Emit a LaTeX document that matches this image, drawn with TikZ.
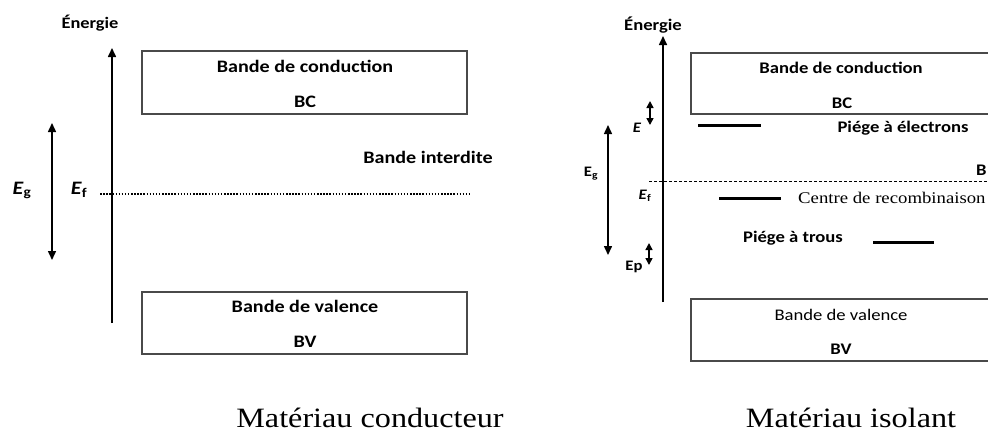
\documentclass[tikz,border=0pt]{standalone}
\usepackage{fontspec}
\setmainfont[FakeStretch=1.15]{Liberation Serif}
\newfontfamily\calib[FakeStretch=1.15]{Carlito}
\usetikzlibrary{arrows.meta}
\definecolor{bandEdge}{HTML}{4A4A4A}

\begin{document}
\begin{tikzpicture}[x=1pt, y=-1pt,
    band/.style={draw=bandEdge, line width=1.3pt, inner sep=0pt},
    lbl/.style={anchor=base, inner sep=0pt, font=\calib\bfseries\fontsize{17.5}{20}\selectfont},
    lblR/.style={anchor=base, inner sep=0pt, font=\calib\bfseries\fontsize{16.2}{19}\selectfont},
    sym/.style={anchor=base, inner sep=0pt, font=\calib\bfseries\fontsize{19}{22}\selectfont},
    symR/.style={anchor=base, inner sep=0pt, font=\calib\bfseries\fontsize{14.5}{17}\selectfont},
    legend/.style={anchor=base, inner sep=0pt, font=\fontsize{28}{32}\selectfont},
    axis/.style={line width=1.6pt, -{Triangle[width=8pt,length=9pt]}},
    gap/.style={line width=1.5pt, {Triangle[width=8pt,length=9pt]}-{Triangle[width=8pt,length=9pt]}},
    gapS/.style={line width=1.5pt, {Triangle[width=7pt,length=7pt]}-{Triangle[width=7pt,length=7pt]}},
    level/.style={line width=3pt}]
  \useasboundingbox (0,0) rectangle (988,432);
  \clip (0,0) rectangle (988,432);

  % Materiau conducteur
  \node[band, minimum width=325pt, minimum height=63pt] (bcL) at (304.5,82.5) {};
  \node[band, minimum width=325pt, minimum height=62pt] (bvL) at (304.5,323) {};
  \node[lbl] (bcLa) at (305,72.6) {Bande de conduction};
  \node[lbl] (bcLb) at (305,107.6) {BC};
  \node[lbl] (bvLa) at (305,312.6) {Bande de valence};
  \node[lbl] (bvLb) at (305,347.6) {BV};
  \node[lbl] (biL) at (428,163.6) {Bande interdite};
  \node[lbl, font=\calib\bfseries\fontsize{16}{19}\selectfont] (enL) at (90,28) {Énergie};
  % axe et gap
  \coordinate (axL0) at (112,323);
  \coordinate (axL1) at (112,48);
  \draw[axis] (axL0) -- (axL1);
  \coordinate (egL0) at (52,123);
  \coordinate (egL1) at (52,260);
  \draw[gap] (egL0) -- (egL1);
  \node[sym] (egLt) at (22,194) {\textit{E}\textsubscript{g}};
  \node[sym] (efLt) at (79,194) {\textit{E}\textsubscript{f}};
  \coordinate (fL0) at (100,194);
  \coordinate (fL1) at (470,194);
  \draw[line width=1.2pt, dash pattern=on 1.5pt off 1.6pt] (fL0) -- (fL1);
  \node[legend] (capL) at (370,427) {Matériau conducteur};

  % Materiau isolant
  \node[band, minimum width=301pt, minimum height=61pt] (bcR) at (841.5,83.5) {};
  \node[band, minimum width=301pt, minimum height=62pt] (bvR) at (841.5,330) {};
  \node[lblR] (bcRa) at (841,73) {Bande de conduction};
  \node[lblR] (bcRb) at (842,108) {BC};
  \node[lblR, font=\calib\fontsize{16.2}{19}\selectfont] (bvRa) at (841,320) {Bande de valence};
  \node[lblR] (bvRb) at (841,354) {BV};
  \node[lblR] (enR) at (653,30) {Énergie};
  \node[lblR, anchor=base west] (biR) at (976,175) {B};
  \coordinate (axR0) at (663,302);
  \coordinate (axR1) at (663,36);
  \draw[axis] (axR0) -- (axR1);
  \coordinate (egR0) at (608,125);
  \coordinate (egR1) at (608,255);
  \draw[gap] (egR0) -- (egR1);
  \coordinate (fR0) at (649,181);
  \coordinate (fR1) at (988,181);
  \draw[line width=1pt, dash pattern=on 3pt off 2pt] (fR0) -- (fR1);
  % niveaux pieges
  \coordinate (eR0) at (650,101);
  \coordinate (eR1) at (650,125);
  \draw[gapS] (eR0) -- (eR1);
  \coordinate (epR0) at (649,243);
  \coordinate (epR1) at (649,265);
  \draw[gapS] (epR0) -- (epR1);
  \draw[level] (698,125) -- (761,125);
  \draw[level] (719,198) -- (781,198);
  \draw[level] (873,242) -- (934,242);
  \node[symR] (eRt) at (637,132.5) {\textit{E}};
  \node[symR] (egRt) at (591,176.5) {E\textsubscript{g}};
  \node[symR] (efRt) at (645,199.5) {\textit{E}\textsubscript{f}};
  \node[symR] (epRt) at (634,270) {Ep};
  \node[lblR] (peR) at (903,132) {Piége à électrons};
  \node[lblR] (ptR) at (793,242) {Piége à trous};
  \node[anchor=base west, inner sep=0pt, font=\fontsize{16.3}{19}\selectfont] (crR) at (798,203) {Centre de recombinaison};
  \node[legend] (capR) at (851,427) {Matériau isolant};
\end{tikzpicture}
\end{document}
